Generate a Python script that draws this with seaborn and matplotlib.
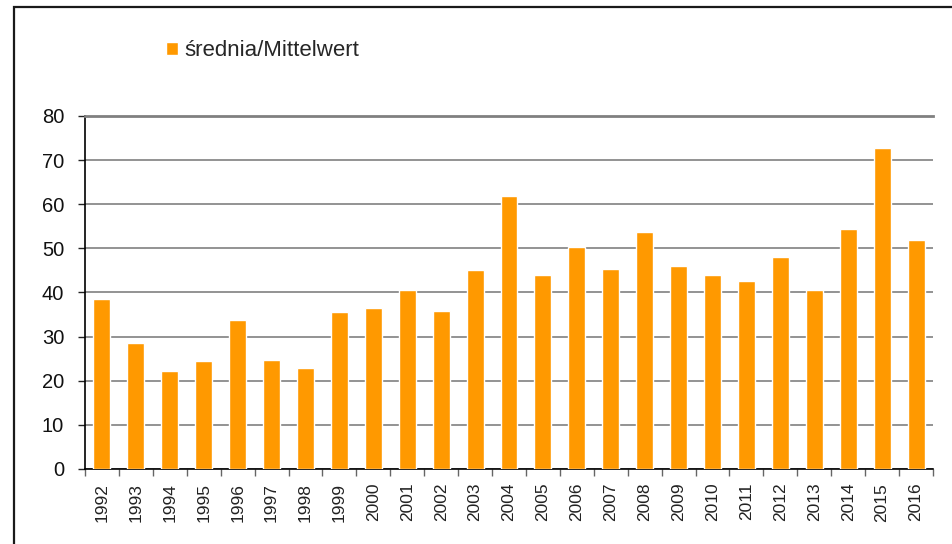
import matplotlib

matplotlib.use("Agg")
import matplotlib.pyplot as plt  # noqa: E402
import matplotlib.patches as mpatches  # noqa: E402
import pandas as pd
import seaborn as sns

years = [str(y) for y in range(1992, 2017)]
values = [
    38.5, 28.5, 22.1, 24.4, 33.8, 24.7, 22.9, 35.6, 36.5, 40.6,
    35.8, 45.1, 61.8, 44.0, 50.3, 45.3, 53.7, 46.0, 44.0, 42.6,
    48.0, 40.6, 54.3, 72.7, 51.9,
]
series_label = "średnia/Mittelwert"
bar_color = "#FF9900"

sns.set_theme(style="white")
plt.rcParams["font.family"] = ["Liberation Sans", "DejaVu Sans"]

df = pd.DataFrame({"year": years, "value": values})

fig = plt.figure(figsize=(9.53, 5.44), dpi=100)
ax = fig.add_axes([0.0892, 0.1379, 0.8898, 0.6489])

sns.barplot(data=df, x="year", y="value", color=bar_color, width=0.5,
            saturation=1, ax=ax, label=series_label, zorder=3)

ax.set_ylim(0, 80)
ax.set_xlim(-0.5, len(years) - 0.5)
ax.set_yticks(range(0, 81, 10))
ax.yaxis.grid(True, color="#808080", linewidth=1.2, zorder=0)
ax.set_axisbelow(True)
ax.set_xlabel("")
ax.set_ylabel("")

# category boundary ticks, labels centred
ax.set_xticks([i - 0.5 for i in range(len(years) + 1)], minor=True)
ax.tick_params(axis="x", which="major", length=0, pad=10, labelsize=12.5,
               labelrotation=90, labelcolor="#222222")
ax.tick_params(axis="x", which="minor", bottom=True, length=5, width=1,
               color="#666666", direction="out")
ax.tick_params(axis="y", left=True, length=5, width=1, color="#222222",
               direction="out", pad=10, labelsize=14.5, labelcolor="#111111")

ax.spines["right"].set_visible(False)
ax.spines["top"].set_color("#808080")
ax.spines["top"].set_linewidth(2)
ax.spines["left"].set_color("black")
ax.spines["left"].set_linewidth(1.2)
ax.spines["bottom"].set_color("black")
ax.spines["bottom"].set_linewidth(1.2)

ax.legend(loc="center left", bbox_to_anchor=(0.174, 0.907),
          bbox_transform=fig.transFigure, frameon=False, fontsize=16,
          handlelength=0.55, handleheight=0.55, handletextpad=0.3,
          borderpad=0, borderaxespad=0)

# outer frame, partly cut off at right and bottom
fig.patches.append(mpatches.Rectangle(
    (14.5 / 953, -0.1), 1.2, 1.1 - 7.5 / 544, transform=fig.transFigure,
    fill=False, edgecolor="#1a1a1a", linewidth=1.6, zorder=10))

fig.savefig("out.png", dpi=100)
plt.close(fig)
